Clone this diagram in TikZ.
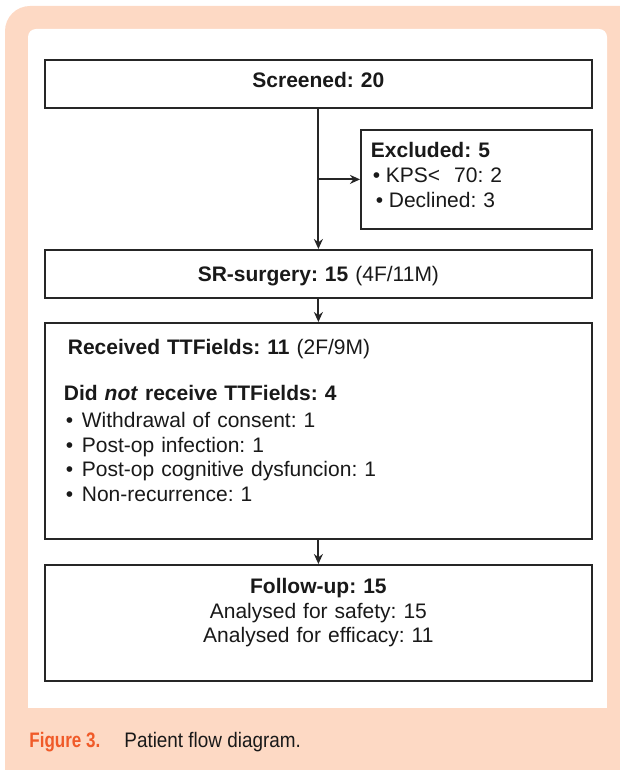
\documentclass[tikz,border=0pt]{standalone}
\usepackage{fontspec}
\setmainfont{Liberation Sans}
\newfontfamily\capfont[FakeStretch=0.9]{Liberation Sans}
\newfontfamily\capboldfont[FakeStretch=0.81]{Liberation Sans Bold}
\usetikzlibrary{arrows.meta}

\definecolor{peach}{RGB}{253,217,196}
\definecolor{figorange}{RGB}{240,90,40}
\newcommand{\flowitem}[2][8pt]{\makebox[#1][l]{\textbullet}#2}

\begin{document}
\frenchspacing
\fontsize{10.5}{12.25}\selectfont
\begin{tikzpicture}[x=0.5pt, y=-0.5pt,
        flowbox/.style={draw=black!85, line width=0.9pt, fill=white, anchor=north west,
            inner sep=0pt, text width=273.5pt, align=center, text=black!90},
        flowarrow/.style={draw=black!85, line width=1pt, -{Stealth[length=5pt, width=4.5pt]}},
    ]

\clip (0,0) rectangle (620,770);
% frame
\fill[peach, rounded corners=12.5pt] (5,6) rectangle (650,800);
\fill[white, rounded corners=4pt] (28,29) rectangle (607,200);
\fill[white] (28,100) rectangle (607,708);

\node[flowbox, font=\bfseries, text height=13.75pt, text depth=10.25pt] (screened) at (44,59) {Screened: 20};

\node[flowbox, align=left, inner xsep=5pt, text width=105.5pt, text height=14pt, text depth=35.5pt] (excluded) at (360,129)
    {\textbf{Excluded: 5}\\[0.25pt]
     \hspace{1pt}\flowitem[6.5pt]{KPS<\ \ 70: 2}\\[0.25pt]
     \hspace{2.5pt}\flowitem[6.5pt]{Declined: 3}};

\node[flowbox, text height=15.75pt, text depth=8.25pt] (srsurgery) at (44,249) {\textbf{SR-surgery: 15} (4F/11M)};

\node[flowbox, align=left, inner xsep=11.5pt, text width=250.5pt, text height=16pt, text depth=92pt] (received) at (44,322)
    {\textbf{Received TTFields: 11} (2F/9M)\\[10.75pt]
     \hspace{-2pt}\textbf{Did \textit{not} receive TTFields: 4}\\[1.25pt]
     \hspace{-1pt}\flowitem{Withdrawal of consent: 1}\\
     \hspace{-1pt}\flowitem{Post-op infection: 1}\\
     \hspace{-1pt}\flowitem{Post-op cognitive dysfuncion: 1}\\
     \hspace{-1pt}\flowitem{Non-recurrence: 1}};

\node[flowbox, text height=14.5pt, text depth=43.5pt] (followup) at (44,564)
    {\textbf{Follow-up: 15}\\
     Analysed for safety: 15\\
     Analysed for efficacy: 11};

% connectors
\draw[flowarrow] (screened) -- (srsurgery);
\draw[flowarrow] (screened.south |- excluded.west) -- (excluded.west);
\draw[flowarrow] (srsurgery) -- (received);
\draw[flowarrow] (received) -- (followup);

% caption
\node[anchor=base west, inner sep=0pt, text=figorange, font=\capboldfont\fontsize{10.5}{12}\selectfont] (figlabel) at (29,747) {Figure 3.};
\node[anchor=base west, inner sep=0pt, text=black!90, font=\capfont\fontsize{10.5}{12}\selectfont] (figtitle) at (124,747) {Patient flow diagram.};

\end{tikzpicture}
\end{document}
